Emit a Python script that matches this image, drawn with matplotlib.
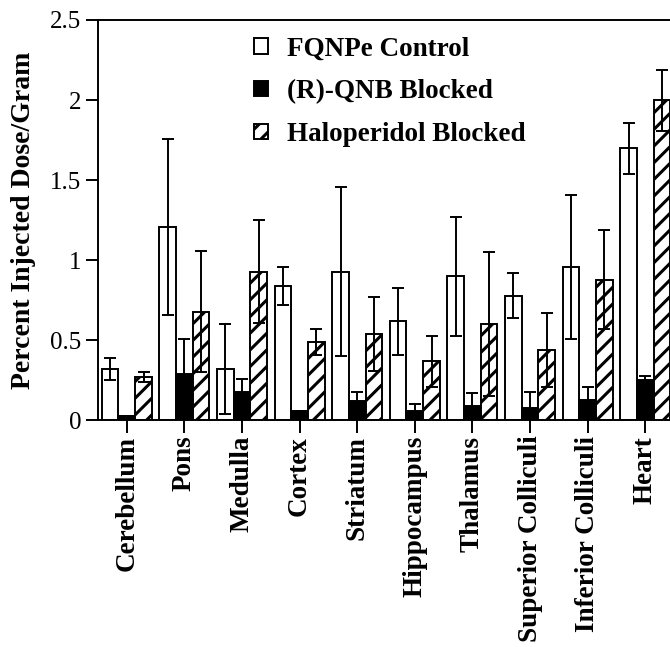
import matplotlib
matplotlib.use("Agg")
import matplotlib.pyplot as plt
import numpy as np

# regions on the x axis
regions = ["Cerebellum", "Pons", "Medulla", "Cortex", "Striatum",
           "Hippocampus", "Thalamus", "Superior Colliculi",
           "Inferior Colliculi", "Heart"]

# percent injected dose / gram, with error
control = [0.32, 1.21, 0.32, 0.84, 0.93, 0.62, 0.90, 0.78, 0.96, 1.70]
control_err = [0.07, 0.55, 0.28, 0.12, 0.53, 0.21, 0.37, 0.14, 0.45, 0.16]

qnb = [0.03, 0.29, 0.18, 0.06, 0.12, 0.06, 0.09, 0.08, 0.13, 0.25]
qnb_err = [0.0, 0.22, 0.08, 0.0, 0.06, 0.04, 0.08, 0.10, 0.08, 0.03]

halo = [0.27, 0.68, 0.93, 0.49, 0.54, 0.37, 0.60, 0.44, 0.88, 2.00]
halo_err = [0.03, 0.38, 0.32, 0.08, 0.23, 0.16, 0.45, 0.23, 0.31, 0.19]

legend_labels = ["FQNPe Control", "(R)-QNB Blocked", "Haloperidol Blocked"]
yticks = [0, 0.5, 1, 1.5, 2, 2.5]
ytick_labels = ["0", "0.5", "1", "1.5", "2", "2.5"]

plt.rcParams['font.family'] = ['Liberation Serif', 'DejaVu Serif']
plt.rcParams['hatch.linewidth'] = 2.2

fig = plt.figure(figsize=(6.7, 6.47), dpi=100)
ax = fig.add_axes([98 / 670, 0.3501, 572 / 670, 0.619])

x = np.arange(len(regions))
w = 0.29
err_kw = dict(ecolor='black', elinewidth=1.4, capsize=4, capthick=1.4)

ax.bar(x - w, control, w, yerr=control_err, color='white', edgecolor='black',
       linewidth=1.4, error_kw=err_kw, label=legend_labels[0])
ax.bar(x, qnb, w, yerr=qnb_err, color='black', edgecolor='black',
       linewidth=1.4, error_kw=err_kw, label=legend_labels[1])
ax.bar(x + w, halo, w, yerr=halo_err, color='white', edgecolor='black',
       hatch='//', linewidth=1.4, error_kw=err_kw, label=legend_labels[2])

ax.set_xlim(-0.5, 9.43)
ax.set_ylim(0, 2.5)
ax.set_yticks(yticks)
ax.set_yticklabels(ytick_labels, fontsize=18)
ax.set_xticks(x)
ax.set_xticklabels(regions, rotation=90, fontsize=19.5, fontweight='bold')
ax.tick_params(axis='y', direction='out', length=9, width=1.4, pad=3)
ax.tick_params(axis='x', direction='out', length=9, width=1.4, pad=2)

ax.spines['right'].set_visible(False)
for s in ['left', 'top', 'bottom']:
    ax.spines[s].set_linewidth(1.4)

ax.set_ylabel("Percent Injected Dose/Gram", fontsize=20, fontweight='bold', labelpad=10)

leg = ax.legend(loc='upper left', bbox_to_anchor=(0.244, 1.0), frameon=False,
                prop={'weight': 'bold', 'size': 19.5}, handlelength=0.52,
                handleheight=0.52, handletextpad=0.7, labelspacing=0.66,
                borderaxespad=0.2)

fig.savefig("out.png", dpi=100)
